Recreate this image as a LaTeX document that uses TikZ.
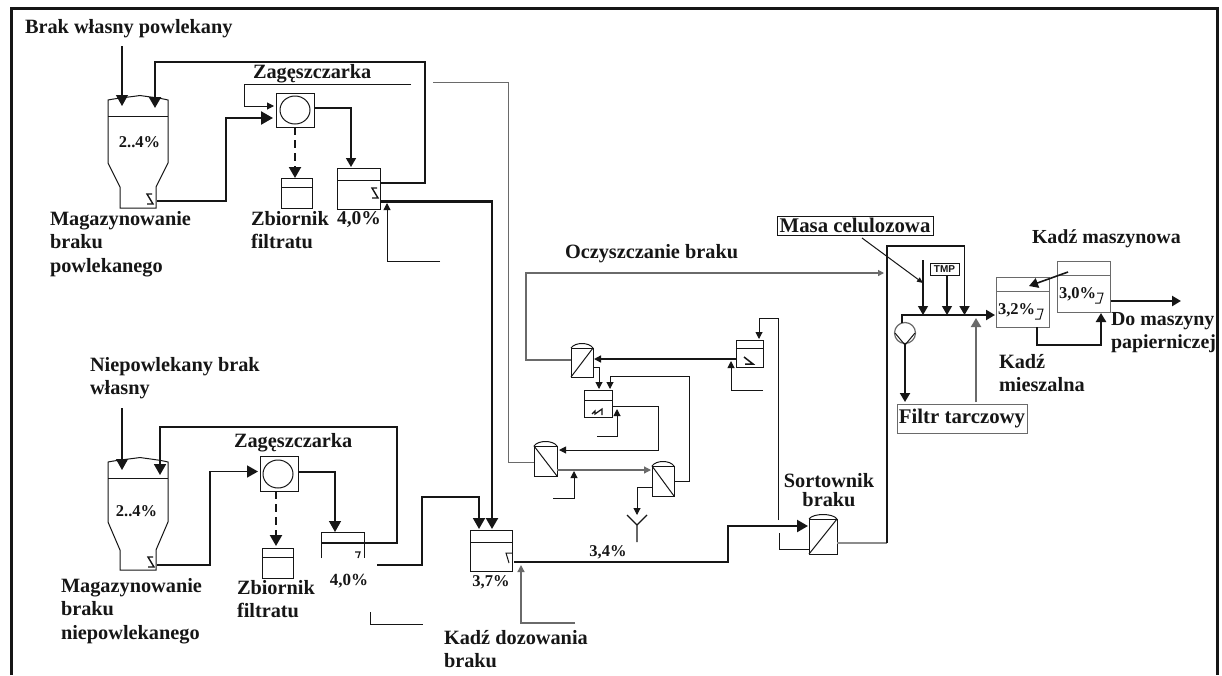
\documentclass[tikz,border=0pt]{standalone}
\usepackage{fontspec}
\setmainfont{Liberation Serif}
\setsansfont{Liberation Sans}
\usetikzlibrary{arrows.meta,calc}
\definecolor{ink}{HTML}{161616}
\definecolor{soft}{HTML}{6A6A6A}
\definecolor{pale}{HTML}{8C8C8C}
\tikzset{
  unit/.style={draw=ink,line width=1pt,inner sep=0pt,outer sep=0pt,fill=none},
  softunit/.style={draw=soft,line width=1pt,inner sep=0pt,outer sep=0pt},
  lab/.style={font=\fontsize{20.3}{23.5}\selectfont\bfseries,text=ink,inner sep=0pt,outer sep=0pt,align=left,anchor=north west},
  labn/.style={lab,font=\fontsize{19.9}{23.5}\selectfont\bfseries},
  pct/.style={font=\fontsize{16.5}{20}\selectfont\bfseries,text=ink,inner sep=0pt,outer sep=0pt},
  framebox/.style={draw=ink,line width=1pt,inner sep=0pt,outer sep=0pt,font=\fontsize{20.8}{24}\selectfont\bfseries,text=ink},
  thinl/.style={draw=ink,line width=1pt},
  greyl/.style={draw=soft,line width=1.2pt},
  med/.style={draw=ink,line width=1.6pt},
  thick2/.style={draw=ink,line width=2.3pt},
  tipS/.style={-{Triangle[length=7pt,width=7pt]}},
  tipM/.style={-{Triangle[length=9pt,width=10pt]}},
  tipL/.style={-{Triangle[length=11pt,width=12pt]}},
  tipX/.style={-{Triangle[length=12pt,width=13pt]}},
  agit/.style={draw=ink,line width=1.4pt},
}
% \eqp[style]{name}{x1}{y1}{x2}{y2}: rectangle node with the given pixel corners
\newcommand{\eqp}[6][unit]{%
  \pgfmathsetmacro{\mw}{#5-#3}\pgfmathsetmacro{\mh}{#6-#4}%
  \pgfmathsetmacro{\mx}{(#5+#3)/2}\pgfmathsetmacro{\my}{(#6+#4)/2}%
  \node[#1,minimum width=\mw pt,minimum height=\mh pt] (#2) at (\mx,\my) {};}
\newcommand{\tankp}[7][unit]{%
  \eqp[#1]{#2}{#3}{#4}{#5}{#6}%
  \draw[#1] (#3,#7) -- (#5,#7);}
\newcommand{\seprise}[5]{%
  \eqp{#1}{#2}{#3}{#4}{#5}%
  \draw[unit] (#1.south west) -- (#1.north east);
  \draw[unit] (#1.north west) .. controls ($(#1.north west)+(4,-6)$) and ($(#1.north east)+(-4,-6)$) .. (#1.north east);}
\newcommand{\sepfall}[5]{%
  \eqp{#1}{#2}{#3}{#4}{#5}%
  \draw[unit] (#1.north west) -- (#1.south east);
  \draw[unit] (#1.north west) .. controls ($(#1.north west)+(4,-6)$) and ($(#1.north east)+(-4,-6)$) .. (#1.north east);}
\newcommand{\agz}[2]{\draw[agit] (#1+2,#2-5) -- (#1-3,#2-5) -- (#1+3,#2+5) -- (#1-3,#2+5);}
\begin{document}
\begin{tikzpicture}[x=1pt,y=-1pt,line join=miter]
\useasboundingbox (0,0) rectangle (1222,675);
\fill[white] (0,0) rectangle (1222,675);
% outer frame
\draw[ink,line width=3pt] (11,675) -- (11,8.5) -- (1217,8.5) -- (1217,675);

% ---------- upper line ----------
\node[lab] (l1) at (25,19) {Brak własny powlekany};
\draw[unit] (108,116) -- (108,163) -- (120,187) -- (120,208) -- (156,208) -- (156,187) -- (168,163) -- (168,100) .. controls (160,98) and (150,97) .. (140,95.5) .. controls (130,97) and (118,98) .. (108,100) -- cycle;
\draw[unit] (108,116) -- (168,116);
\coordinate (s1a) at (122,106); \coordinate (s1b) at (155,108);
\coordinate (s1out) at (157,201);
\node[pct] (p1) at (139.5,142) {2..4\%};
\agz{150}{199}
\coordinate (l1s) at (122,46);
\draw[thinl,line width=1.2pt,tipL] (l1s) -- (s1a);
\node[lab] (m1) at (50,211) {Magazynowanie\\braku\\powlekanego};
\node[lab] (z1) at (253,64) {Zagęszczarka};
\eqp{zag1}{276}{93}{314}{127}
\draw[unit] (295,110) ellipse (15 and 14);
\coordinate (fb1) at (411,84);
\draw[thinl,tipS] (fb1) -- (244,84) -- (244,106) -- ([yshift=4pt,xshift=-2pt]zag1.west);
\draw[thick2,tipX] (s1out) -- (226,201) -- (226,118) -- ([yshift=-8pt,xshift=-3pt]zag1.west);
\eqp{fil1}{281}{178}{312}{208}
\draw[unit] (281,187) -- (312,187);
\draw[med,line width=2pt,dash pattern=on 8pt off 5pt,tipL] (295,127) -- (295,178);
\tankp{t1}{337}{168}{380}{209}{180}
\agz{375}{193}
\draw[med,tipM] ([yshift=2pt]zag1.east) -- (351,108) -- (351,167);
\draw[thick2,tipL] (380,183) -- (425,183) -- (425,62) -- (155,62) -- (s1b);
\coordinate (b1) at (440,261);
\draw[thinl,tipS] (b1) -- (387,261) -- (387,203);
\node[lab] (z1b) at (251,211) {Zbiornik\\filtratu};
\node[font=\fontsize{19.5}{20}\selectfont\bfseries,text=ink,inner sep=0pt] (p2) at (359,220) {4,0\%};

% ---------- lower line ----------
\node[lab] (l2) at (90,357) {Niepowlekany brak\\własny};
\draw[unit] (108,478) -- (108,522) -- (120,550) -- (120,570) -- (156,570) -- (156,550) -- (168,522) -- (168,462) .. controls (160,460) and (150,459) .. (140,457.5) .. controls (130,459) and (118,460) .. (108,462) -- cycle;
\draw[unit] (108,478) -- (168,478);
\coordinate (s2a) at (122,470); \coordinate (s2b) at (160,475);
\coordinate (s2out) at (157,565);
\node[pct] (p3) at (136.5,511) {2..4\%};
\agz{151}{562}
\coordinate (l2s) at (122,408);
\draw[thinl,line width=1.2pt,tipL] (l2s) -- (s2a);
\node[lab] (m2) at (61,578) {Magazynowanie\\braku\\niepowlekanego};
\node[lab] (z2) at (234,433) {Zagęszczarka};
\eqp{zag2}{260}{456}{298}{491}
\draw[unit] (278,474) ellipse (15 and 14);
\draw[med,tipL] (s2out) -- (210,565) -- (210,471.5) -- ([yshift=2pt,xshift=-2pt]zag2.west);
\eqp{fil2}{262}{548}{293}{578}
\draw[unit] (262,557) -- (293,557);
\draw[med,dash pattern=on 8pt off 5pt,tipL,line width=2.2pt] (276,491) -- (276,546);
\draw[unit] (321,558) -- (321,532) -- (364,532) -- (364,558);
\draw[thinl,line width=1.2pt] (355,552) -- (360,552) -- (358,558);
\draw[thinl,tipL,line width=1.4pt] ([yshift=1.5pt]zag2.east) -- (335,472) -- (335,532);
\draw[thick2,line width=1.8pt,tipL] (321,543) -- (397,543) -- (397,427) -- (160,427) -- (s2b);
\node[lab] (z2b) at (237,580) {Zbiornik\\filtratu};
\node[font=\fontsize{17}{20}\selectfont\bfseries,text=ink,inner sep=0pt] (p4) at (349,581) {4,0\%};
\coordinate (c3a) at (377,565);
\tankp{t3}{470}{530}{512}{571}{542}
\draw[thick2,line width=1.8pt,tipL] (c3a) -- (422,565) -- (422,497) -- (479,497) -- (479,529);
\draw[thick2,tipL] (380,201.5) -- (492,201.5) -- (492,529);
\coordinate (c4a) at (370,612); \coordinate (c4b) at (423,624);
\draw[thinl] (c4a) -- (370,624) -- (c4b);
\node[font=\fontsize{16.5}{20}\selectfont\bfseries,text=ink,inner sep=0pt] (p5) at (491,582) {3,7\%};
\node[lab] (kd) at (444,630) {Kadź dozowania\\braku};
\draw[unit] (512,553) -- (506,553) -- (509,563);

% ---------- cleaning ----------
\node[lab] (oc) at (565,244) {Oczyszczanie braku};
\seprise{sa}{571}{348}{593}{377}
\eqp{tz}{736}{340}{763}{367}
\draw[unit] (736,348) -- (763,348);
\draw[thinl,line width=1.5pt] (744,357) -- (753,364) -- (745,364);
\tankp{ts}{584}{390}{612}{417}{400}
\draw[thinl,line width=1.2pt] (592,414) -- (595,411) -- (595,414) -- (602,409) -- (602,415);
\sepfall{sb}{534}{446}{557}{476}
\sepfall{sc}{652}{466}{674}{496}
\seprise{sort}{809}{519}{837}{554}
\draw[greyl,-{Triangle[length=6pt,width=6pt]}] (sa.west |- 526,360) -- (526,360) -- (526,273) -- (884,273);
\draw[thinl,line width=1.4pt,tipS] ([yshift=-5.5pt]tz.west) -- ([xshift=1pt,yshift=3.5pt]sa.east);
\draw[thinl,line width=1pt,tipS] (763,390) -- (731,390) -- (731,361);
\draw[thinl,line width=1pt,tipS] (778,520) -- (778,318) -- (759,318) -- (759,339);
\draw[thinl,tipS] (593,367) -- (599,367) -- (599,389);
\draw[thinl,tipS] (sc.east) -- (689,481) -- (689,376) -- (610,376) -- (610,389);
\draw[thinl,tipS] ([yshift=-2.5pt]ts.east) -- (658,406) -- (658,450) -- (559,450);
\draw[thinl,tipS] (597,436) -- (617,436) -- (617,409);
\draw[greyl,tipS] (557,470) -- (651,470);
\draw[thinl,tipS] (553,498) -- (574,498) -- (574,471);
\draw[thinl,tipS] (652,487) -- (637,487) -- (637,515);
\draw[thinl,line width=1.2pt] (627,515) -- (637,525) -- (647,515) (637,525) -- (637,542);
\draw[soft,line width=1pt] (433,82) -- (508,82) -- (508,462) -- (534,462);
\draw[thick2,tipL] (514,562) -- (728,562) -- (728,526) -- (808,526);
\draw[draw=soft,line width=1.3pt,tipS] (575,623) -- (521,623) -- (521,565);
\draw[thinl] (779,533) -- (779,549) -- (809,549);
\node[pct] (p6) at (608,552) {3,4\%};
\node[lab,align=center,anchor=north,font=\fontsize{20.3}{19.5}\selectfont\bfseries] (st) at (829,473) {Sortownik\\braku};

% ---------- right part ----------
\draw[draw=pale,line width=1.5pt] (837,543) -- (887,543);
\draw[ink,line width=1.8pt,tipM] (887,543) -- (887,246) -- (964.5,246) -- (964.5,315);
\node[framebox,minimum width=156pt,minimum height=19pt] (mc) at (855,225.5) {Masa celulozowa};
\coordinate (v1) at (923,260);
\draw[thinl,line width=1.2pt,tipM] (v1) -- (923,315);
\draw[thinl,-{Triangle[length=6pt,width=5pt]}] (862,238) -- (923,283);
\node[draw=ink,line width=1pt,minimum width=29pt,minimum height=12pt,inner sep=0pt,outer sep=0pt,font=\sffamily\fontsize{10}{12}\selectfont\bfseries,text=ink] (tmp) at (944.5,269) {TMP};
\draw[thinl,line width=1.2pt,tipM] (947,275) -- (947,315);
\draw[soft,line width=1.2pt] (905,333) circle (10.5);
\draw[ink,line width=1pt] (895,333) -- (905,345) -- (915,333);
\draw[med,line width=2pt,tipM] (902,323) -- (902,315) -- (995,315);
\draw[med,line width=2pt,tipM] (905,343) -- (905,402);
\node[framebox,draw=soft,minimum width=130pt,minimum height=29pt] (ft) at (962,418.5) {Filtr tarczowy};
\draw[draw=soft,line width=2pt,tipM] (976,402) -- (976,318);
\tankp[softunit]{tm}{996}{277}{1049}{327}{291}
\tankp[softunit]{tk}{1057}{261}{1110}{312}{275}
\draw[med,tipM] (1068,272) -- (1029,286);
\draw[thick2,tipM] (1111,301) -- (1181,301);
\draw[thick2,tipM] (1037,327) -- (1037,345) -- (1101,345) -- (1101,313);
\node[pct,anchor=west] (p7) at (998,310) {3,2\%};
\node[pct,anchor=west] (p8) at (1059,294) {3,0\%};
\draw[agit,line width=1pt] (1037,309) -- (1043,309) -- (1040,319) -- (1035,319);
\draw[agit,line width=1pt] (1097,293) -- (1103,293) -- (1100,303) -- (1095,303);
\node[labn] (km) at (1032,230) {Kadź maszynowa};
\node[labn] (dm) at (1111,312) {Do maszyny\\papierniczej};
\node[lab] (kz) at (999,354) {Kadź\\mieszalna};
\end{tikzpicture}
\end{document}
